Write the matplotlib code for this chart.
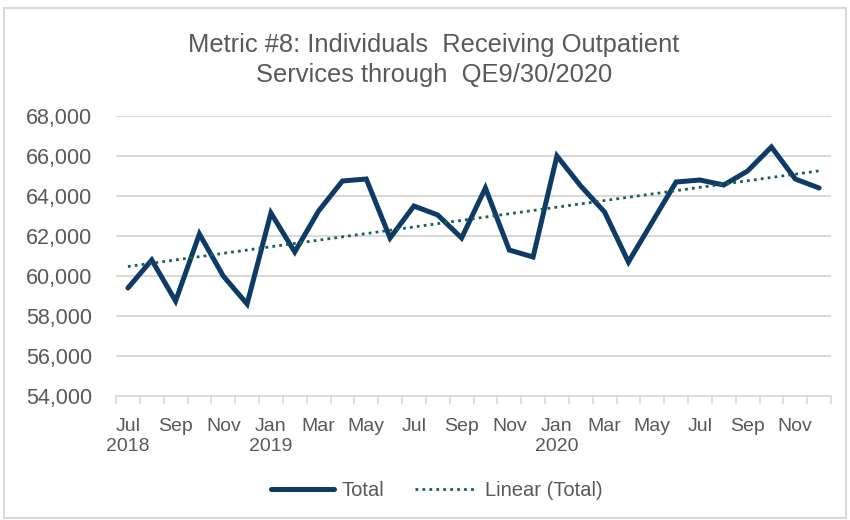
import matplotlib.pyplot as plt
import numpy as np
from matplotlib.patches import Rectangle

plt.rcParams["font.family"] = ["Liberation Sans", "DejaVu Sans"]

months = ["Jul", "Aug", "Sep", "Oct", "Nov", "Dec",
          "Jan", "Feb", "Mar", "Apr", "May", "Jun",
          "Jul", "Aug", "Sep", "Oct", "Nov", "Dec",
          "Jan", "Feb", "Mar", "Apr", "May", "Jun",
          "Jul", "Aug", "Sep", "Oct", "Nov", "Dec"]
years = {0: "2018", 6: "2019", 18: "2020"}
total = [59400, 60800, 58750, 62100, 60000, 58600,
         63150, 61200, 63250, 64750, 64850, 61900,
         63500, 63050, 61900, 64400, 61300, 60950,
         66000, 64500, 63200, 60700, 62700, 64700,
         64800, 64550, 65250, 66450, 64850, 64400]

title = "Metric #8: Individuals  Receiving Outpatient\nServices through  QE9/30/2020"
text_color = "#595959"
line_color = "#0D3B66"
trend_color = "#1B5E57"

x = np.arange(len(total))
slope, intercept = np.polyfit(x, total, 1)
trend = slope * x + intercept

fig = plt.figure(figsize=(8.5, 5.2), dpi=100)
fig.patches.append(Rectangle((0.005, 0.004), 0.99, 0.98, transform=fig.transFigure,
                             fill=False, edgecolor="#D9D9D9", linewidth=1.5))
ax = fig.add_axes([116 / 850, 1 - 396 / 520, (831 - 116) / 850, (396 - 116) / 520])

ax.plot(x, total, color=line_color, linewidth=3.6, label="Total",
        solid_joinstyle="miter", solid_capstyle="round")
ax.plot(x, trend, color=trend_color, linewidth=2, linestyle=(0, (1, 1.5)),
        label="Linear (Total)")

ax.set_xlim(-0.5, len(total) - 0.5)
ax.set_ylim(54000, 68000)
ax.set_yticks(np.arange(54000, 68001, 2000))
ax.set_yticklabels([f"{v:,}" for v in range(54000, 68001, 2000)])
ax.yaxis.grid(True, color="#D9D9D9", linewidth=1.5)
ax.set_axisbelow(True)

labels = []
pos = []
for i, m in enumerate(months):
    if i % 2 == 0:
        pos.append(i)
        labels.append(m + ("\n" + years[i] if i in years else ""))
ax.set_xticks(pos)
ax.set_xticklabels(labels, linespacing=1.25, va="top")
ax.set_xticks(np.arange(-0.5, len(total), 1), minor=True)
ax.tick_params(axis="x", which="major", length=0, pad=16, labelsize=14, colors=text_color)
ax.tick_params(axis="x", which="minor", length=6, color="#D9D9D9", width=1.2)
ax.tick_params(axis="y", length=0, pad=17, labelsize=15.5, colors=text_color)

for side in ["top", "right", "left"]:
    ax.spines[side].set_visible(False)
ax.spines["bottom"].set_color("#D9D9D9")
ax.spines["bottom"].set_linewidth(1.2)

fig.text(434 / 850, 1 - 60 / 520, title, ha="center", va="center",
         fontsize=18.4, color=text_color, linespacing=1.35)

fig.legend(loc="center", bbox_to_anchor=(437 / 850, 1 - 491 / 520), ncol=2,
           frameon=False, fontsize=14.5, labelcolor=text_color,
           handlelength=3.1, columnspacing=1.5, handletextpad=0.4)

fig.savefig("out.png", dpi=100)
